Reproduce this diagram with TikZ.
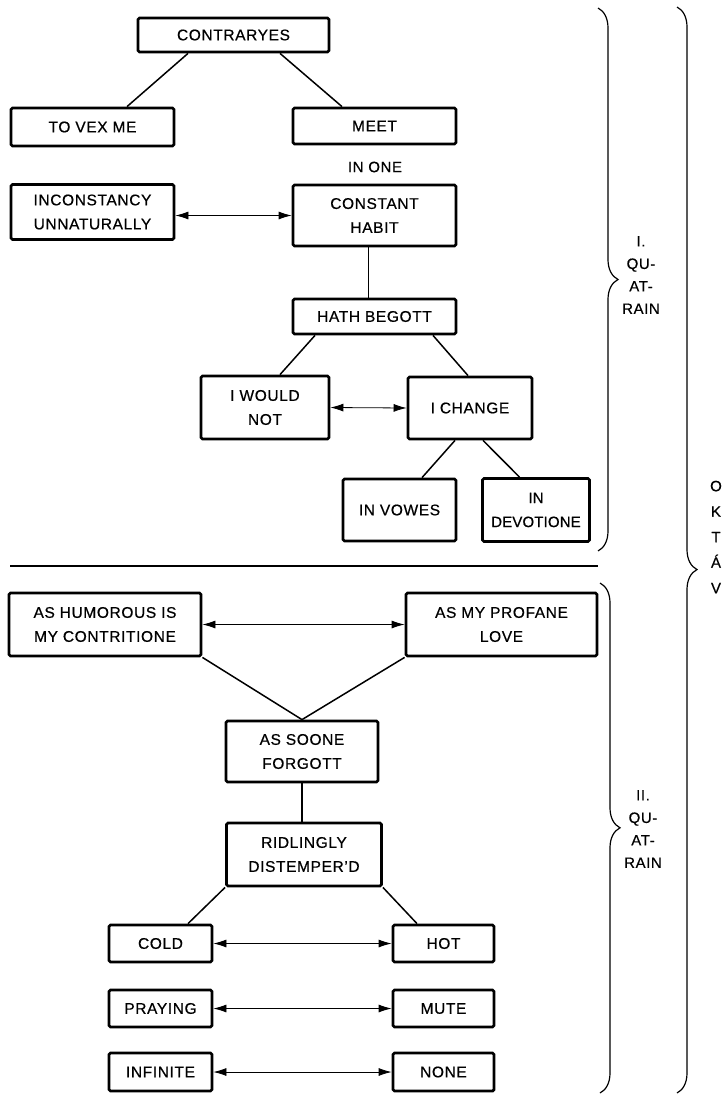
\documentclass[tikz,border=0pt]{standalone}
\usepackage{fontspec}
\setmainfont{Liberation Sans}[LetterSpace=4,FakeBold=0.6]
\newfontfamily\narrowfont{Liberation Sans}[LetterSpace=1,FakeBold=0.6]
\usetikzlibrary{arrows.meta,decorations.pathreplacing,positioning}
\newcommand{\boxfont}{\fontsize{15.5}{24}\selectfont}
\newcommand{\tagfont}{\fontsize{15}{22.5}\selectfont}
\tikzset{box/.style={draw,line width=2.8pt,rounded corners=1.5pt,align=center,inner sep=0pt,font=\boxfont},
         sz/.style 2 args={minimum width=#1pt,minimum height=#2pt},
         link/.style={line width=1.5pt},
         pair/.style={line width=0.8pt,{Latex[length=13pt,width=8pt]}-{Latex[length=13pt,width=8pt]}},
         curly/.style={decorate,decoration={brace,amplitude=20pt,aspect=#1},line width=1.2pt},
         tag/.style={align=center,inner sep=0pt,font=\tagfont},
            }
\begin{document}
\begin{tikzpicture}[x=1pt,y=-1pt]
    \useasboundingbox (0,0) rectangle (726,1095);

    % first quatrain
    \node[box,sz={191}{34}] (contra) at (233.5,35) {CONTRARYES};
    \node[box,sz={163}{38}] (vex) at (92.5,127) {TO VEX ME};
    \node[box,sz={163}{36}] (meet) at (374.5,126) {MEET};
    \node[tag] (inone) at (375,167) {IN ONE};
    \node[box,sz={163}{55}] (incon) at (92.5,212) {INCONSTANCY\\UNNATURALLY};
    \node[box,sz={163}{61}] (habit) at (374.5,215.5) {CONSTANT\\HABIT};
    \node[box,sz={163}{35}] (hath) at (374.5,316.5) {HATH BEGOTT};
    \node[box,sz={128}{63}] (would) at (265,407.5) {I WOULD\\NOT};
    \node[box,sz={124}{62}] (change) at (470,408) {I CHANGE};
    \node[box,sz={113}{62}] (vowes) at (399.5,510) {IN VOWES};
    \node[box,sz={107}{63},font=\narrowfont\fontsize{15}{24}\selectfont] (devot) at (536,510) {IN\\DEVOTIONE};

    \draw[link] ([xshift=-45.5pt]contra.south) -- ([xshift=34.5pt]vex.north);
    \draw[link] ([xshift=46.5pt]contra.south) -- ([xshift=-32.5pt]meet.north);
    \draw[pair] (habit.west -| incon.east) -- (habit.west);
    \draw[link] ([xshift=-6pt]habit.south) -- ([xshift=-6pt]hath.north);
    \draw[link] ([xshift=-59.5pt]hath.south) -- ([xshift=15pt]would.north);
    \draw[link] ([xshift=58.5pt]hath.south) -- ([xshift=-2pt]change.north);
    \draw[pair] (would.east) -- (change.west);
    \draw[link] ([xshift=-15pt]change.south) -- ([xshift=22.5pt]vowes.north);
    \draw[link] ([xshift=13pt]change.south) -- ([xshift=-16.5pt]devot.north);

    % dividing line
    \coordinate (sepL) at (10,566);
    \coordinate (sepR) at (598,566);
    \draw[line width=1.2pt] (sepL) -- (sepR);

    % second quatrain
    \node[box,sz={192}{63}] (humor) at (105,624.5) {AS HUMOROUS IS\\MY CONTRITIONE};
    \node[box,sz={191}{63}] (profane) at (501.5,624.5) {AS MY PROFANE\\LOVE};
    \node[box,sz={152}{61}] (soone) at (302,751.5) {AS SOONE\\FORGOTT};
    \node[box,sz={155}{63}] (ridl) at (304,854.5) {RIDLINGLY\\DISTEMPER'D};
    \node[box,sz={103}{37}] (cold) at (160.5,943.5) {COLD};
    \node[box,sz={101}{37}] (hot) at (443.5,943.5) {HOT};
    \node[box,sz={103}{37}] (pray) at (160.5,1008.5) {PRAYING};
    \node[box,sz={101}{37}] (mute) at (443.5,1008.5) {MUTE};
    \node[box,sz={103}{38}] (infin) at (160.5,1072) {INFINITE};
    \node[box,sz={101}{38}] (none) at (443.5,1072) {NONE};

    \draw[pair] (humor.east) -- (profane.west);
    \draw[link] (humor.south east) -- (soone.north);
    \draw[link] (profane.south west) -- (soone.north);
    \draw[link] (soone.south) -- (soone.south |- ridl.north);
    \draw[link] (ridl.south west) -- ([xshift=27.5pt]cold.north);
    \draw[link] (ridl.south east) -- ([xshift=-26.5pt]hot.north);
    \draw[pair] (cold.east) -- (hot.west);
    \draw[pair] (pray.east) -- (mute.west);
    \draw[pair] (infin.east) -- (none.west);

    % braces
    \draw[curly=0.5] (598,8) -- (598,551);
    \draw[curly=0.48] (600,583) -- (600,1093);
    \draw[curly=0.518] (677,7) -- (677,1093);
    \node[tag] (quat1) at (641,275) {I.\\QU-\\AT-\\RAIN};
    \node[tag] (quat2) at (643,829) {II.\\QU-\\AT-\\RAIN};
    \node[tag,font=\fontsize{15}{25.5}\selectfont] (oktav) at (716,537) {O\\K\\T\\Á\\V};

\end{tikzpicture}
\end{document}
